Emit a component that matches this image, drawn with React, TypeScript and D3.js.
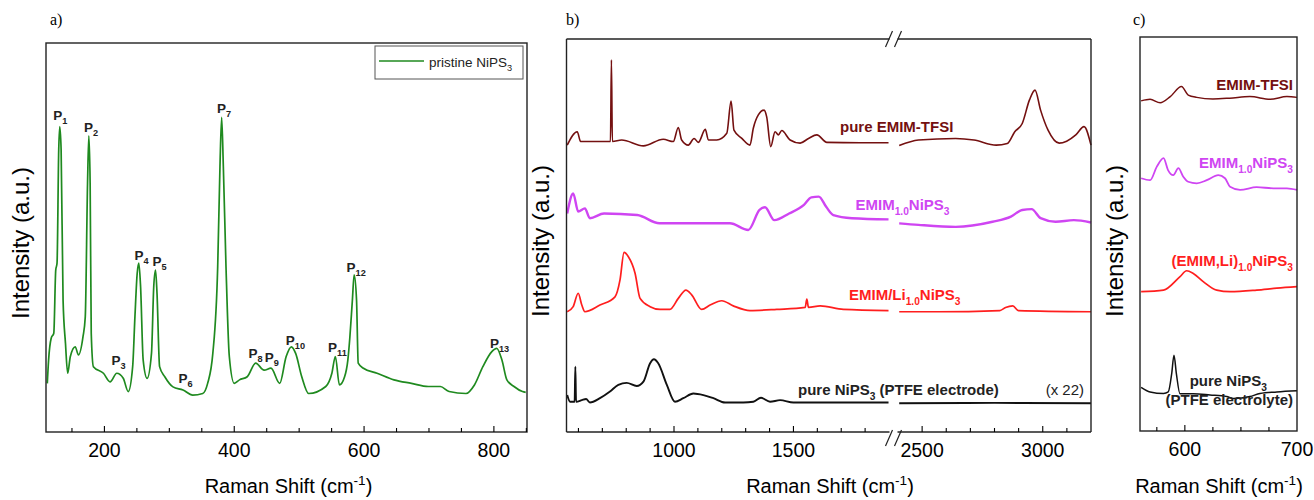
import React from "react";
import * as d3 from "d3";

type Pt = [number, number]; // [Raman shift (cm-1), intensity (a.u.)]
type Seg = [string, ("sub" | "sup")?];

// ---------- panel a: pristine NiPS3 ----------
const aSpectrum: Pt[] = [
  [112, 12.5], [114, 18.5], [118, 24.1], [122, 25.4], [125, 41.6], [127, 43.4], [129.6, 72.5], [131.2, 78.5],
  [133.3, 72.5], [136.3, 33.9], [140, 22.8], [143.4, 15.1], [147.5, 19.4], [155, 21.9], [160, 19.8], [167, 24.5],
  [170.5, 29.6], [174, 63.9], [176, 76.1], [178, 63.9], [179.7, 25.4], [183, 16.8], [198.5, 15.1], [208.7, 12.9],
  [219, 15.1], [229, 13.8], [236.7, 10.4], [243.5, 16.8], [247, 29.6], [250.5, 40.8], [253, 43.4], [255.7, 37.4],
  [259.7, 18.5], [265.8, 13.8], [272.5, 20.2], [276, 37.4], [278.7, 41.6], [281, 35.7], [285, 16.8], [293, 14.2],
  [305.6, 11.6], [321, 10.8], [336, 9.5], [351.5, 9.9], [359, 12.5], [367, 20.2], [374.5, 42.5], [378, 68.2],
  [380.6, 80.9], [383.2, 68.2], [387.3, 42.5], [392.4, 19.4], [400, 12.5], [408, 13.4], [420, 14.2], [433, 17.7],
  [446, 15.9], [456.6, 16.4], [470, 12.5], [480, 19.4], [488, 21.9], [494.6, 20.2], [504, 14.2], [514.6, 9.9],
  [541, 11.7], [550.4, 15.1], [555.8, 19.4], [562, 12.1], [570, 14.2], [575, 18.5], [578, 24.1], [582, 33.9],
  [584.7, 40.4], [588.4, 33.9], [591, 17.7], [599, 16.4], [620, 15.1], [646, 13.4], [673, 12.5], [699, 11.7],
  [717.5, 11.7], [731, 10.4], [757, 9.9], [770, 12.1], [783, 16.8], [796.5, 20.6], [804.4, 21.5], [812.4, 18.5],
  [820, 13.4], [831, 11.7], [844, 10.4], [849, 10.2],
];
const aPeakNames = ["1", "2", "3", "4", "5", "6", "7", "8", "9", "10", "11", "12", "13"];
const aPeakShift = [121, 168.5, 211, 246.5, 274, 314, 373.5, 422, 447, 479.5, 544.5, 573, 794];
const aPeakLevel = [80.2, 77.1, 17.2, 44.2, 42.7, 12.6, 82.0, 19.0, 18.0, 22.4, 20.6, 41.1, 21.6];
const aTickLabels = [200, 400, 600, 800];
const aLegend: Seg[] = [["pristine NiPS"], ["3", "sub"]];

// ---------- panel b: full range with axis break ----------
const bTfsi: Pt[] = [
  [553, 73.0], [595, 76.4], [609, 73.9], [662, 73.9], [725, 73.9], [734, 73.9], [738, 94.7], [742, 73.9],
  [781, 74.3], [872, 72.8], [955, 74.5], [997, 73.9], [1018, 77.5], [1032, 74.3], [1060, 73.0], [1084, 74.7],
  [1102, 73.7], [1131, 77.0], [1144, 74.3], [1179, 74.3], [1221, 76.0], [1239, 84.2], [1251, 76.8], [1284, 74.7],
  [1318, 73.0], [1332, 77.3], [1353, 80.7], [1377, 81.9], [1388, 80.2], [1405, 72.6], [1423, 76.4], [1437, 75.6],
  [1451, 76.7], [1486, 74.3], [1528, 73.5], [1563, 74.7], [1598, 75.6], [1640, 73.7], [1779, 73.6], [1898, 73.6],
  [2405, 72.9], [2485, 74.3], [2639, 74.7], [2715, 74.3], [2807, 73.0], [2853, 73.4], [2884, 76.4], [2915, 78.5],
  [2945, 84.5], [2968, 87.0], [2991, 81.9], [3022, 76.8], [3068, 73.5], [3099, 74.0], [3137, 75.6], [3171, 77.7],
  [3200, 73.0],
];
const bEmim: Pt[] = [
  [553, 55.6], [578, 60.7], [599, 56.1], [627, 56.9], [648, 54.4], [707, 55.6], [846, 55.2], [939, 53.1],
  [1094, 53.1], [1234, 53.1], [1311, 51.4], [1358, 56.5], [1381, 57.2], [1420, 53.9], [1482, 55.6], [1544, 57.8],
  [1575, 59.7], [1606, 59.9], [1637, 57.3], [1667, 55.2], [1745, 54.4], [1898, 54.1],
  [2405, 53.1], [2485, 52.7], [2639, 52.2], [2792, 53.5], [2868, 54.8], [2915, 56.5], [2954, 56.7], [2991, 54.4],
  [3053, 53.5], [3129, 53.9], [3200, 53.3],
];
const bEmimLi: Pt[] = [
  [553, 30.6], [578, 31.9], [599, 35.3], [614, 32.3], [627, 30.6], [690, 32.3], [753, 34.4], [774, 38.7],
  [791, 45.7], [809, 44.6], [837, 40.4], [858, 34.0], [900, 31.9], [942, 31.2], [983, 31.2], [1018, 34.0],
  [1050, 36.1], [1074, 34.9], [1116, 31.2], [1151, 32.3], [1200, 33.4], [1248, 32.1], [1318, 30.9], [1430, 31.2],
  [1549, 31.7], [1556, 33.8], [1563, 31.7], [1612, 32.1], [1709, 31.2], [1898, 30.9],
  [2405, 30.6], [2562, 30.6], [2822, 30.9], [2846, 31.7], [2876, 32.1], [2899, 30.9], [3200, 30.6],
];
const bPure: Pt[] = [
  [553, 9.4], [565, 7.7], [578, 7.7], [584, 7.7], [587, 16.6], [590, 7.7], [614, 8.1], [632, 8.4], [648, 7.5],
  [690, 8.6], [732, 10.3], [767, 12.0], [802, 12.5], [844, 11.7], [872, 12.8], [900, 17.5], [916, 18.5],
  [934, 17.5], [970, 12.0], [1004, 7.7], [1039, 8.6], [1081, 9.8], [1123, 9.4], [1165, 8.6], [1214, 7.5],
  [1290, 7.5], [1332, 7.7], [1364, 8.7], [1402, 7.7], [1444, 8.1], [1500, 7.5], [1898, 7.5],
  [2405, 7.3], [2800, 7.4], [3200, 7.3],
];
const bTickLabelsLeft = [1000, 1500];
const bTickLabelsRight = [2500, 3000];
const bLabelTfsi: Seg[] = [["pure EMIM-TFSI"]];
const bLabelEmim: Seg[] = [["EMIM"], ["1.0", "sub"], ["NiPS"], ["3", "sub"]];
const bLabelLi: Seg[] = [["EMIM/Li"], ["1.0", "sub"], ["NiPS"], ["3", "sub"]];
const bLabelPure: Seg[] = [["pure NiPS"], ["3", "sub"], [" (PTFE electrode)"]];
const bScaleNote = "(x 22)";

// ---------- panel c: 560-700 cm-1 zoom ----------
const cTfsi: Pt[] = [
  [561, 83.5], [569, 83.9], [578, 83.0], [587, 84.6], [597, 87.2], [603, 85.0], [610.6, 84.4], [625, 84.0],
  [640, 84.2], [658, 84.6], [676, 83.9], [691, 84.6], [700, 84.4],
];
const cEmim: Pt[] = [
  [561, 63.5], [569, 63.0], [575, 66.5], [581, 68.7], [585, 65.6], [589.7, 64.3], [594.2, 66.1], [598.6, 63.9],
  [603, 62.6], [610.6, 62.2], [619.5, 63.0], [629.8, 64.3], [635.8, 63.5], [640.3, 61.3], [649.2, 60.5],
  [664, 61.2], [679, 60.9], [691, 60.9], [700, 60.5],
];
const cEmimLi: Pt[] = [
  [561, 34.2], [581, 34.6], [595.7, 38.1], [601.6, 39.6], [607.5, 38.9], [616.4, 36.8], [628.4, 34.6],
  [640.3, 34.2], [664, 34.6], [682, 35.1], [700, 35.5],
];
const cPure: Pt[] = [
  [561, 9.5], [569, 8.3], [581, 7.9], [585.2, 8.3], [588.3, 13.1], [590.3, 17.8], [592.4, 13.1], [595.7, 7.8],
  [607.5, 7.8], [622.4, 7.5], [637.3, 7.1], [643.2, 6.6], [658, 7.1], [667, 7.9], [682, 8.3], [700, 8.6],
];
const cTickLabels = [600, 700];
const cLabelTfsi: Seg[] = [["EMIM-TFSI"]];
const cLabelEmim: Seg[] = [["EMIM"], ["1.0", "sub"], ["NiPS"], ["3", "sub"]];
const cLabelLi: Seg[] = [["(EMIM,Li)"], ["1.0", "sub"], ["NiPS"], ["3", "sub"]];
const cLabelPure1: Seg[] = [["pure NiPS"], ["3", "sub"]];
const cLabelPure2: Seg[] = [["(PTFE electrolyte)"]];

const xTitle: Seg[] = [["Raman Shift (cm"], ["-1", "sup"], [")"]];
const yTitle = "Intensity (a.u.)";

// ---------- styling ----------
const FONT = "'Liberation Sans', Arial, Helvetica, sans-serif";
const GREEN = "#1f8a1f";
const MAROON = "#741010";
const MAGENTA = "#cf45f2";
const RED = "#ff1e1e";
const BLACK = "#111111";

const A = { left: 46, right: 527, top: 43, bottom: 432 };
const B = { left: 566.5, breakL: 889, breakR: 898, right: 1091, top: 39, bottom: 432 };
const C = { left: 1140, right: 1297, top: 37, bottom: 431 };

function tspans(segs: Seg[], size: number) {
  let shift = 0;
  return segs.map(([t, mode], i) => {
    const target = mode === "sub" ? size * 0.3 : mode === "sup" ? -size * 0.42 : 0;
    const dy = target - shift;
    shift = target;
    return (
      <tspan key={i} dy={dy} fontSize={mode ? size * 0.68 : size}>
        {t}
      </tspan>
    );
  });
}

function Rich(props: {
  x: number;
  y: number;
  segs: Seg[];
  size: number;
  fill?: string;
  bold?: boolean;
  anchor?: "start" | "middle" | "end";
}) {
  const { x, y, segs, size, fill = "#000", bold = false, anchor = "start" } = props;
  return (
    <text x={x} y={y} fontFamily={FONT} fontSize={size} fill={fill} fontWeight={bold ? 700 : 400} textAnchor={anchor}>
      {tspans(segs, size)}
    </text>
  );
}

function YTitle({ x, y }: { x: number; y: number }) {
  return (
    <text transform={`translate(${x},${y}) rotate(-90)`} textAnchor="middle" fontFamily={FONT} fontSize={24}>
      {yTitle}
    </text>
  );
}

function PanelTag({ x, text }: { x: number; text: string }) {
  return (
    <text x={x} y={25} fontFamily="'Liberation Serif', 'Times New Roman', serif" fontSize={16}>
      {text}
    </text>
  );
}

function BottomTicks(props: {
  scale: d3.ScaleLinear<number, number>;
  values: number[];
  labels: number[];
  y: number;
}) {
  const { scale, values, labels, y } = props;
  return (
    <g>
      {values.map((v) => {
        const major = labels.includes(v);
        return (
          <line key={v} x1={scale(v)} x2={scale(v)} y1={y} y2={y - (major ? 6 : 4)} stroke="#000" strokeWidth={1.1} />
        );
      })}
      {labels.map((v) => (
        <text key={`l${v}`} x={scale(v)} y={y + 25} textAnchor="middle" fontFamily={FONT} fontSize={19.5}>
          {v}
        </text>
      ))}
    </g>
  );
}

export default function App() {
  // panel a
  const ax = d3.scaleLinear().domain([110, 851]).range([A.left, A.right]);
  const ay = d3.scaleLinear().domain([0, 100]).range([A.bottom, A.top]);
  const aLine = d3
    .line<Pt>()
    .x((d) => ax(d[0]))
    .y((d) => ay(d[1]))
    .curve(d3.curveMonotoneX);

  // panel b: two x scales around the break
  const bxL = d3.scaleLinear().domain([550, 1900]).range([B.left, B.breakL]);
  const bxR = d3.scaleLinear().domain([2400, 3200]).range([B.breakR, B.right]);
  const by = d3.scaleLinear().domain([0, 100]).range([B.bottom, B.top]);
  const bLineL = d3
    .line<Pt>()
    .x((d) => bxL(d[0]))
    .y((d) => by(d[1]))
    .curve(d3.curveMonotoneX);
  const bLineR = d3
    .line<Pt>()
    .x((d) => bxR(d[0]))
    .y((d) => by(d[1]))
    .curve(d3.curveMonotoneX);
  const bSeries: [Pt[], string, number][] = [
    [bTfsi, MAROON, 1.6],
    [bEmim, MAGENTA, 2.4],
    [bEmimLi, RED, 1.7],
    [bPure, BLACK, 1.9],
  ];

  // panel c (baseline of the y scale sits a little above the frame)
  const cx = d3.scaleLinear().domain([560, 700]).range([C.left, C.right]);
  const cy = d3.scaleLinear().domain([-1.8, 100]).range([C.bottom, C.top]);
  const cLine = d3
    .line<Pt>()
    .x((d) => cx(d[0]))
    .y((d) => cy(d[1]))
    .curve(d3.curveMonotoneX);
  const cSeries: [Pt[], string, number][] = [
    [cTfsi, MAROON, 1.5],
    [cEmim, MAGENTA, 1.8],
    [cEmimLi, RED, 1.7],
    [cPure, BLACK, 1.5],
  ];

  const slash = (x: number, y: number) => `M${x - 8},${y + 8}L${x - 1},${y - 8}M${x + 1},${y + 8}L${x + 8},${y - 8}`;
  const bMid = (B.breakL + B.breakR) / 2;

  return (
    <svg
      width={1314}
      height={500}
      viewBox="0 0 1314 500"
      style={{ position: "absolute", left: 0, top: 0, display: "block", background: "#fff" }}
    >
      <rect width={1314} height={500} fill="#fff" />

      {/* ---------- a ---------- */}
      <PanelTag x={50} text="a)" />
      <path d={aLine(aSpectrum) ?? ""} fill="none" stroke={GREEN} strokeWidth={1.7} />
      {aPeakNames.map((n, i) => (
        <Rich
          key={n}
          x={ax(aPeakShift[i])}
          y={ay(aPeakLevel[i])}
          segs={[["P"], [n, "sub"]]}
          size={13.5}
          bold
          fill="#222"
        />
      ))}
      <rect x={375} y={46} width={148} height={33} fill="#fff" stroke="#555" strokeWidth={1} />
      <line x1={379} x2={424} y1={61} y2={61} stroke={GREEN} strokeWidth={1.6} />
      <Rich x={429} y={67} segs={aLegend} size={13.5} fill="#222" />
      <rect x={A.left} y={A.top} width={A.right - A.left} height={A.bottom - A.top} fill="none" stroke="#222" strokeWidth={1.4} />
      <BottomTicks scale={ax} values={d3.range(150, 851, 50)} labels={aTickLabels} y={A.bottom} />
      <Rich x={(A.left + A.right) / 2 + 2} y={493} segs={xTitle} size={20} anchor="middle" />
      <YTitle x={29} y={243} />

      {/* ---------- b ---------- */}
      <PanelTag x={566} text="b)" />
      {bSeries.map(([pts, color, w], i) => (
        <g key={i} fill="none" stroke={color} strokeWidth={w}>
          <path d={bLineL(pts.filter((p) => p[0] < 2000)) ?? ""} />
          <path d={bLineR(pts.filter((p) => p[0] > 2000)) ?? ""} />
        </g>
      ))}
      <Rich x={840} y={132} segs={bLabelTfsi} size={15} bold fill={MAROON} />
      <Rich x={855.5} y={210} segs={bLabelEmim} size={15} bold fill={MAGENTA} />
      <Rich x={849} y={300} segs={bLabelLi} size={15} bold fill={RED} />
      <Rich x={798} y={395} segs={bLabelPure} size={15} bold fill="#222" />
      <text x={1084} y={395} textAnchor="end" fontFamily={FONT} fontSize={15} fill="#222">
        {bScaleNote}
      </text>
      <g stroke="#222" strokeWidth={1.4} fill="none">
        <line x1={B.left} x2={B.left} y1={B.top} y2={B.bottom} />
        <line x1={B.right} x2={B.right} y1={B.top} y2={B.bottom} />
        <line x1={B.left} x2={bMid - 4} y1={B.top} y2={B.top} />
        <line x1={bMid + 4} x2={B.right} y1={B.top} y2={B.top} />
        <line x1={B.left} x2={bMid - 4} y1={B.bottom} y2={B.bottom} />
        <line x1={bMid + 4} x2={B.right} y1={B.bottom} y2={B.bottom} />
        <path d={slash(bMid, B.top)} strokeWidth={1.2} />
        <path d={slash(bMid, B.bottom + 6)} strokeWidth={1.2} />
      </g>
      <BottomTicks scale={bxL} values={d3.range(600, 1900, 100)} labels={bTickLabelsLeft} y={B.bottom} />
      <BottomTicks scale={bxR} values={d3.range(2500, 3200, 100)} labels={bTickLabelsRight} y={B.bottom} />
      <Rich x={830} y={493} segs={xTitle} size={20} anchor="middle" />
      <YTitle x={549} y={241} />

      {/* ---------- c ---------- */}
      <PanelTag x={1133} text="c)" />
      {cSeries.map(([pts, color, w], i) => (
        <path key={i} d={cLine(pts) ?? ""} fill="none" stroke={color} strokeWidth={w} />
      ))}
      <Rich x={1293} y={90} segs={cLabelTfsi} size={15} bold fill={MAROON} anchor="end" />
      <Rich x={1293} y={168} segs={cLabelEmim} size={15} bold fill={MAGENTA} anchor="end" />
      <Rich x={1293} y={266} segs={cLabelLi} size={15} bold fill={RED} anchor="end" />
      <Rich x={1267} y={386} segs={cLabelPure1} size={15} bold fill="#222" anchor="end" />
      <Rich x={1293} y={405} segs={cLabelPure2} size={15} bold fill="#222" anchor="end" />
      <rect x={C.left} y={C.top} width={C.right - C.left} height={C.bottom - C.top} fill="none" stroke="#222" strokeWidth={1.4} />
      <BottomTicks scale={cx} values={d3.range(575, 700, 25)} labels={cTickLabels} y={C.bottom} />
      <Rich x={1219} y={493} segs={xTitle} size={20} anchor="middle" />
      <YTitle x={1123} y={241} />
    </svg>
  );
}
